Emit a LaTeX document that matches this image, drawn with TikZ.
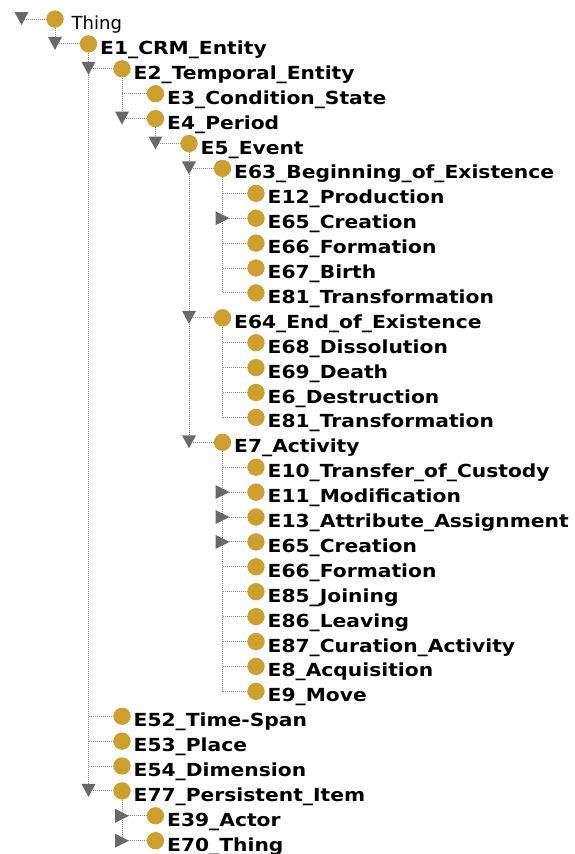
\documentclass[tikz,border=0pt]{standalone}
\usepackage{fontspec}
\setmainfont{DejaVu Sans}
\newfontfamily\bfl{DejaVu Sans Bold}[FakeStretch=1.125]
\definecolor{ballc}{RGB}{205,159,47}
\definecolor{tric}{RGB}{105,105,105}
\definecolor{dotc}{RGB}{140,140,140}
\begin{document}
\begin{tikzpicture}[x=1pt,y=-1pt,
  ball/.style={circle,fill=ballc,minimum size=17pt,inner sep=0pt},
  lbl/.style={anchor=base west,inner sep=0pt,font=\fontsize{18}{18}\bfl},
  rlbl/.style={anchor=base west,inner sep=0pt,font=\fontsize{18}{18}\selectfont},
  dots/.style={draw=dotc,line width=1pt,dash pattern=on 1pt off 1pt},
  trifill/.style={fill=tric}]
\useasboundingbox (0,0) rectangle (574,854);
\fill[white] (0,0) rectangle (574,854);
% nodes: row/level/label
\foreach \r/\l/\s in {
 1/1/E1\_CRM\_Entity,
 2/2/E2\_Temporal\_Entity,
 3/3/E3\_Condition\_State,
 4/3/E4\_Period,
 5/4/E5\_Event,
 6/5/E63\_Beginning\_of\_Existence,
 7/6/E12\_Production,
 8/6/E65\_Creation,
 9/6/E66\_Formation,
 10/6/E67\_Birth,
 11/6/E81\_Transformation,
 12/5/E64\_End\_of\_Existence,
 13/6/E68\_Dissolution,
 14/6/E69\_Death,
 15/6/E6\_Destruction,
 16/6/E81\_Transformation,
 17/5/E7\_Activity,
 18/6/E10\_Transfer\_of\_Custody,
 19/6/E11\_Modification,
 20/6/E13\_Attribute\_Assignment,
 21/6/E65\_Creation,
 22/6/E66\_Formation,
 23/6/E85\_Joining,
 24/6/E86\_Leaving,
 25/6/E87\_Curation\_Activity,
 26/6/E8\_Acquisition,
 27/6/E9\_Move,
 28/2/E52\_Time-Span,
 29/2/E53\_Place,
 30/2/E54\_Dimension,
 31/2/E77\_Persistent\_Item,
 32/3/E39\_Actor,
 33/3/E70\_Thing}{
  \node[ball] (c\r) at ({55+33.5*\l},{19+24.9*\r}) {};
  \coordinate (j\r) at ({55+33.5*\l-33.5},{19+24.9*\r});
  \node[lbl] (l\r) at ({55+33.5*\l+11.5},{19+24.9*\r+10.5}) {\s};
}
% root
\node[ball] (c0) at (55,19) {};
\coordinate (j0) at (21.5,19);
\node[rlbl] (l0) at (71.5,29.5) {Thing};
% trunks
\foreach \p/\q in {0/1,1/31,2/4,4/5,5/17,6/11,12/16,17/27,31/33}
  \draw[dots] (c\p.south) -- (j\q);
% horizontal connectors
\foreach \r in {0,...,33}
  \draw[dots] (j\r) -- (c\r.west);
% expanded (down) triangles
\foreach \r in {0,1,2,4,5,6,12,17,31}
  \fill[trifill] ([shift={(-7,-7)}]j\r) -- ([shift={(7,-7)}]j\r) -- ([shift={(0,6)}]j\r) -- cycle;
% collapsed (right) triangles
\foreach \r in {8,19,20,21,32,33}
  \fill[trifill] ([shift={(-7,-7)}]j\r) -- ([shift={(-7,7)}]j\r) -- ([shift={(7,0)}]j\r) -- cycle;
% balls on top
\foreach \r in {0,...,33}
  \fill[ballc] (c\r) circle (8.5);
\end{tikzpicture}
\end{document}
